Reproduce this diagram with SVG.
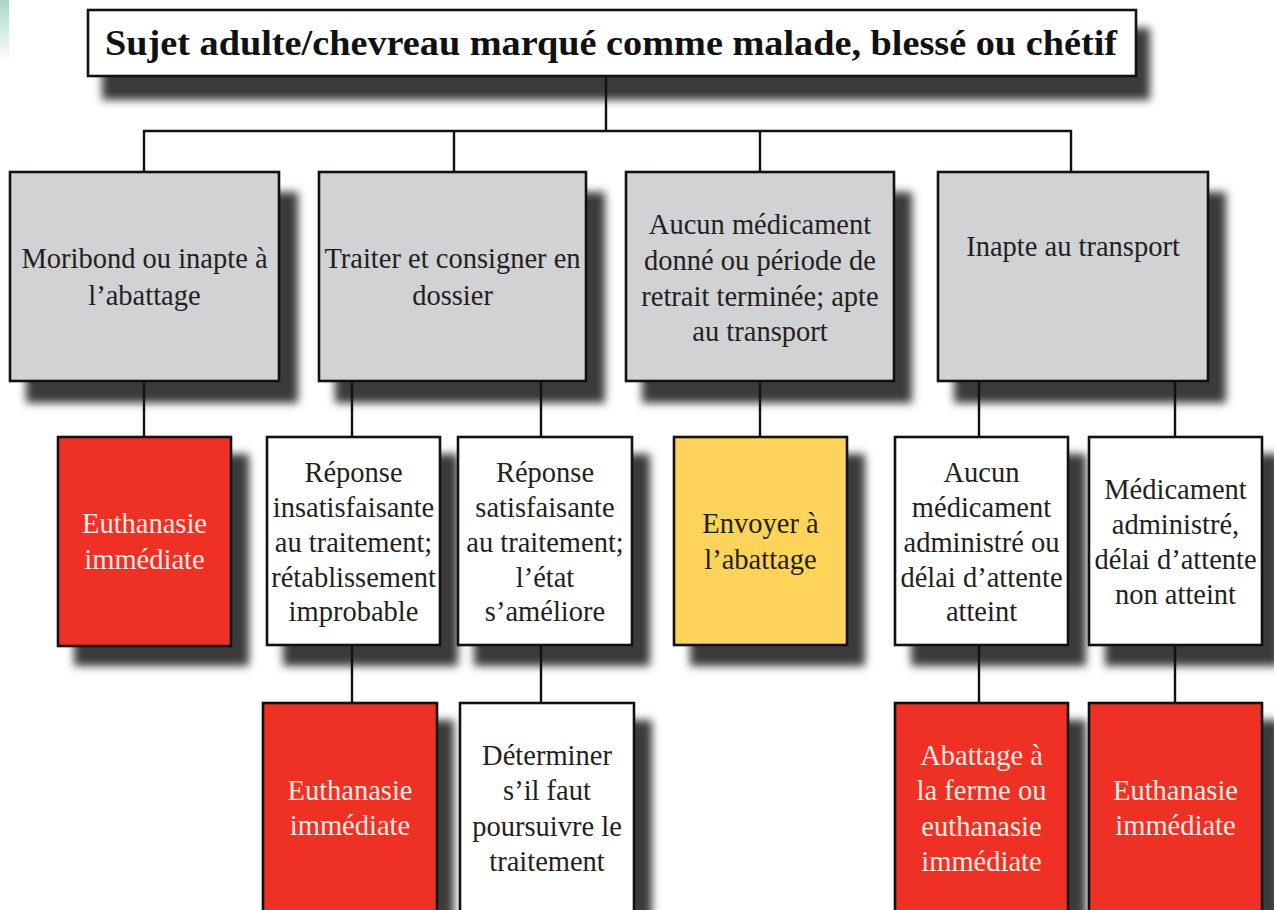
<svg xmlns="http://www.w3.org/2000/svg" width="1274" height="910" viewBox="0 0 1274 910">
<defs>
<filter id="sh" x="-20%" y="-20%" width="150%" height="150%">
<feGaussianBlur stdDeviation="4"/>
</filter>
<linearGradient id="teal" x1="0" y1="0" x2="0" y2="1">
<stop offset="0" stop-color="#a9d6c4"/>
<stop offset="1" stop-color="#ffffff"/>
</linearGradient>
<style>
.shadow{fill:#3a3a3a;filter:url(#sh);}
.box{stroke:#111;stroke-width:2.6;}
.gray{fill:#d1d2d4;}
.white{fill:#ffffff;}
.red{fill:#ee3124;}
.yellow{fill:#fed35a;}
.t{font-size:28.5px;text-anchor:middle;fill:#231f20;}
.tw{fill:#fdebe4;}
.title{font-size:35px;font-weight:bold;fill:#111;}
.ln{stroke:#111;stroke-width:2.4;fill:none;}
</style>
</defs>
<rect width="1274" height="910" fill="#ffffff"/>
<rect x="0" y="0" width="9" height="62" fill="url(#teal)"/>

<g id="title" font-family="'Liberation Serif', 'DejaVu Serif', serif">
<rect class="shadow" x="102" y="28" width="1048" height="72"/>
<rect class="box white" x="88" y="10" width="1048" height="66"/>
<text class="title" x="105" y="55" textLength="1012" lengthAdjust="spacingAndGlyphs">Sujet adulte/chevreau marqué comme malade, blessé ou chétif</text>
</g>

<g font-family="'Liberation Serif', 'DejaVu Serif', serif">
<g id="moribond">
<rect class="shadow" x="26" y="192" width="272" height="211"/>
<rect class="box gray" x="10" y="172" width="269" height="209"/>
<text class="t" x="144.5" y="268">Moribond ou inapte à</text>
<text class="t" x="144.5" y="305">l’abattage</text>
</g>
<g id="traiter">
<rect class="shadow" x="335" y="192" width="270" height="211"/>
<rect class="box gray" x="319" y="172" width="267" height="209"/>
<text class="t" x="452.5" y="268">Traiter et consigner en</text>
<text class="t" x="452.5" y="305">dossier</text>
</g>
<g id="aucun-medicament-donne">
<rect class="shadow" x="642" y="192" width="270" height="211"/>
<rect class="box gray" x="626" y="172" width="268" height="209"/>
<text class="t" x="760" y="234">Aucun médicament</text>
<text class="t" x="760" y="270">donné ou période de</text>
<text class="t" x="760" y="306">retrait terminée; apte</text>
<text class="t" x="760" y="341">au transport</text>
</g>
<g id="inapte">
<rect class="shadow" x="954" y="192" width="272" height="211"/>
<rect class="box gray" x="938" y="172" width="270" height="209"/>
<text class="t" x="1073" y="256">Inapte au transport</text>
</g>

<g id="euthanasie1">
<rect class="shadow" x="74" y="454" width="175" height="212"/>
<rect class="box red" x="58" y="437" width="173" height="209"/>
<text class="t tw" x="144.5" y="533">Euthanasie</text>
<text class="t tw" x="144.5" y="569">immédiate</text>
</g>
<g id="insatisfaisante">
<rect class="shadow" x="283" y="454" width="175" height="212"/>
<rect class="box white" x="267" y="437" width="173" height="208"/>
<text class="t" x="353.5" y="482">Réponse</text>
<text class="t" x="353.5" y="517">insatisfaisante</text>
<text class="t" x="353.5" y="552">au traitement;</text>
<text class="t" x="353.5" y="587">rétablissement</text>
<text class="t" x="353.5" y="621">improbable</text>
</g>
<g id="satisfaisante">
<rect class="shadow" x="474" y="454" width="176" height="212"/>
<rect class="box white" x="458" y="437" width="174" height="208"/>
<text class="t" x="545" y="482">Réponse</text>
<text class="t" x="545" y="517">satisfaisante</text>
<text class="t" x="545" y="552">au traitement;</text>
<text class="t" x="545" y="587">l’état</text>
<text class="t" x="545" y="621">s’améliore</text>
</g>
<g id="envoyer">
<rect class="shadow" x="690" y="454" width="175" height="212"/>
<rect class="box yellow" x="674" y="437" width="173" height="208"/>
<text class="t" x="760.5" y="533">Envoyer à</text>
<text class="t" x="760.5" y="569">l’abattage</text>
</g>
<g id="aucun-medicament-administre">
<rect class="shadow" x="911" y="454" width="175" height="212"/>
<rect class="box white" x="895" y="437" width="173" height="208"/>
<text class="t" x="981.5" y="482">Aucun</text>
<text class="t" x="981.5" y="517">médicament</text>
<text class="t" x="981.5" y="552">administré ou</text>
<text class="t" x="981.5" y="587">délai d’attente</text>
<text class="t" x="981.5" y="621">atteint</text>
</g>
<g id="medicament-administre">
<rect class="shadow" x="1105" y="454" width="175" height="212"/>
<rect class="box white" x="1089" y="437" width="173" height="208"/>
<text class="t" x="1175.5" y="499">Médicament</text>
<text class="t" x="1175.5" y="534">administré,</text>
<text class="t" x="1175.5" y="569">délai d’attente</text>
<text class="t" x="1175.5" y="604">non atteint</text>
</g>

<g id="euthanasie2">
<rect class="shadow" x="279" y="720" width="175" height="220"/>
<rect class="box red" x="263" y="703" width="174" height="230"/>
<text class="t tw" x="350" y="800">Euthanasie</text>
<text class="t tw" x="350" y="835">immédiate</text>
</g>
<g id="determiner">
<rect class="shadow" x="476" y="720" width="176" height="220"/>
<rect class="box white" x="460" y="703" width="174" height="230"/>
<text class="t" x="547" y="765">Déterminer</text>
<text class="t" x="547" y="800">s’il faut</text>
<text class="t" x="547" y="836">poursuivre le</text>
<text class="t" x="547" y="871">traitement</text>
</g>
<g id="abattage-ferme">
<rect class="shadow" x="911" y="720" width="175" height="220"/>
<rect class="box red" x="895" y="703" width="173" height="230"/>
<text class="t tw" x="981.5" y="765">Abattage à</text>
<text class="t tw" x="981.5" y="800">la ferme ou</text>
<text class="t tw" x="981.5" y="836">euthanasie</text>
<text class="t tw" x="981.5" y="871">immédiate</text>
</g>
<g id="euthanasie3">
<rect class="shadow" x="1105" y="720" width="175" height="220"/>
<rect class="box red" x="1089" y="703" width="173" height="230"/>
<text class="t tw" x="1175.5" y="800">Euthanasie</text>
<text class="t tw" x="1175.5" y="835">immédiate</text>
</g>
</g>

<g id="connectors">
<path class="ln" d="M606 76 V131 M144 172 V131 H1071 V172 M454 131 V172 M760 131 V172"/>
<path class="ln" d="M144 381 V437"/>
<path class="ln" d="M352 381 V437 M541 381 V437"/>
<path class="ln" d="M760 381 V437"/>
<path class="ln" d="M979 381 V437 M1175 381 V437"/>
<path class="ln" d="M352 645 V703 M541 645 V703"/>
<path class="ln" d="M979 645 V703 M1175 645 V703"/>
</g>
</svg>
